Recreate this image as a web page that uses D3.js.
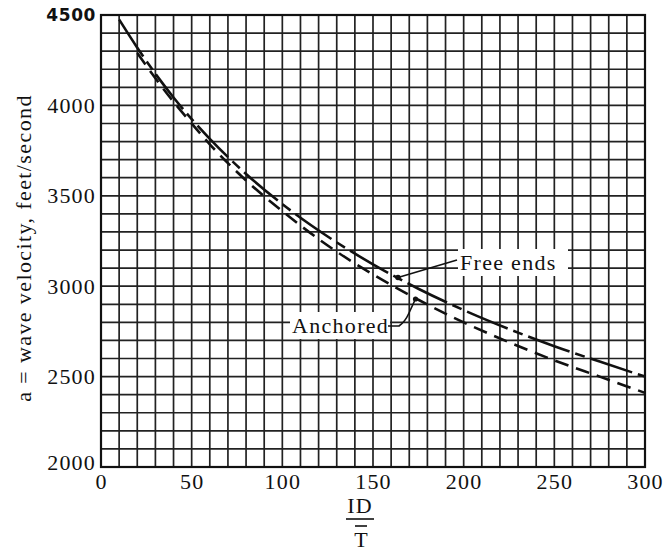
<!DOCTYPE html>
<html>
<head>
<meta charset="utf-8">
<script src="https://cdn.jsdelivr.net/npm/d3@7"></script>
<style>
  html, body { margin: 0; padding: 0; background: #fff; }
  svg { display: block; }
  text { font-family: "Liberation Serif", "Times New Roman", serif; fill: #111; }
</style>
</head>
<body>
<div id="chart"></div>
<script>
// ---- data ----
const freeX   = [10, 20, 30, 40, 50, 60, 80, 100, 125, 150, 175, 200, 225, 250, 275, 300];
const freeA   = [4475, 4319, 4175, 4044, 3924, 3815, 3621, 3454, 3275, 3121, 2986, 2868, 2763, 2668, 2583, 2500];
const anchX   = [20, 30, 40, 50, 60, 80, 100, 125, 150, 175, 200, 225, 250, 275, 300];
const anchA   = [4290, 4150, 4020, 3900, 3785, 3585, 3415, 3225, 3065, 2925, 2800, 2690, 2590, 2500, 2410];
const xTicks  = [0, 50, 100, 150, 200, 250, 300];
const yTicks  = [2000, 2500, 3000, 3500, 4000, 4500];
const seriesNames = ["Free ends", "Anchored"];
const yLabel = "a = wave velocity, feet/second";

const W = 666, H = 552;
const m = {left: 101, top: 15, right: 21, bottom: 85};
const iw = W - m.left - m.right, ih = H - m.top - m.bottom;

const svg = d3.select("#chart").append("svg").attr("width", W).attr("height", H);
const g = svg.append("g").attr("transform", `translate(${m.left},${m.top})`);

const x = d3.scaleLinear().domain([0, 300]).range([0, iw]);
const y = d3.scaleLinear().domain([2000, 4500]).range([ih, 0]);

// grid
const gridColor = "#222";
g.append("g").selectAll("line").data(d3.range(0, 301, 10)).join("line")
  .attr("x1", d => x(d)).attr("x2", d => x(d)).attr("y1", 0).attr("y2", ih)
  .attr("stroke", gridColor).attr("stroke-width", 1.7);
g.append("g").selectAll("line").data(d3.range(2000, 4501, 100)).join("line")
  .attr("y1", d => y(d)).attr("y2", d => y(d)).attr("x1", 0).attr("x2", iw)
  .attr("stroke", gridColor).attr("stroke-width", 1.7);
g.append("rect").attr("width", iw).attr("height", ih).attr("fill", "none")
  .attr("stroke", "#111").attr("stroke-width", 2.2);

// axes (labels only)
const xAxis = d3.axisBottom(x).tickValues(xTicks).tickSize(0).tickPadding(6).tickFormat(d3.format("d"));
const xg = g.append("g").attr("transform", `translate(0,${ih})`).call(xAxis);
xg.select(".domain").remove();
xg.selectAll("text").attr("font-size", 22).attr("letter-spacing", "1.2px").attr("fill", "#111");

const yAxis = d3.axisLeft(y).tickValues(yTicks).tickSize(0).tickPadding(5).tickFormat(d3.format("d"));
const yg = g.append("g").call(yAxis);
yg.select(".domain").remove();
yg.selectAll("text").attr("font-size", 22).attr("letter-spacing", "1.2px").attr("fill", "#111");
yg.selectAll(".tick").filter(d => d === 4500).select("text")
  .style("font-family", "'DejaVu Sans', sans-serif").style("font-weight", "bold")
  .attr("font-size", 17).attr("letter-spacing", "0.6px").attr("dy", "0.3em");
yg.selectAll(".tick").filter(d => d === 2000).select("text").attr("dy", "0.1em");

// curves
const line = d3.line().x(d => x(d[0])).y(d => y(d[1])).curve(d3.curveMonotoneX);
const freeData = freeX.map((v, i) => [v, freeA[i]]);
const anchData = anchX.map((v, i) => [v, anchA[i]]);
g.append("path").datum(anchData).attr("d", line).attr("fill", "none")
  .attr("stroke", "#111").attr("stroke-width", 2.6).attr("stroke-dasharray", "14,8");
g.append("path").datum(freeData).attr("d", line).attr("fill", "none")
  .attr("stroke", "#111").attr("stroke-width", 2.6).attr("stroke-dasharray", "44,6,10,6");

// annotations
const ann = svg.append("g");
ann.append("rect").attr("x", 458).attr("y", 249).attr("width", 110).attr("height", 27).attr("fill", "#fff");
ann.append("text").attr("x", 460).attr("y", 270).attr("font-size", 22).attr("letter-spacing", "1.3px")
  .text(seriesNames[0]);
ann.append("line").attr("x1", 457).attr("y1", 260).attr("x2", 398).attr("y2", 277.5)
  .attr("stroke", "#111").attr("stroke-width", 1.6);
ann.append("circle").attr("cx", 398).attr("cy", 277.5).attr("r", 2.8).attr("fill", "#111");

ann.append("rect").attr("x", 290).attr("y", 312).attr("width", 100).attr("height", 27).attr("fill", "#fff");
ann.append("text").attr("x", 292).attr("y", 333).attr("font-size", 22).attr("letter-spacing", "1.3px")
  .text(seriesNames[1]);
ann.append("path").attr("d", "M388,326 L399,326 Q405,322 409,313 L415,300")
  .attr("fill", "none").attr("stroke", "#111").attr("stroke-width", 1.6);
ann.append("circle").attr("cx", 415.5).attr("cy", 299).attr("r", 2.6).attr("fill", "#111");

// x axis label ID / T
const xl = svg.append("g");
xl.append("text").attr("x", 360).attr("y", 513).attr("text-anchor", "middle")
  .attr("font-size", 22).attr("letter-spacing", "1.2px").text("ID");
xl.append("line").attr("x1", 346).attr("x2", 374).attr("y1", 519).attr("y2", 519)
  .attr("stroke", "#111").attr("stroke-width", 1.6);
xl.append("line").attr("x1", 355).attr("x2", 367).attr("y1", 526).attr("y2", 526)
  .attr("stroke", "#111").attr("stroke-width", 1.6);
xl.append("text").attr("x", 361).attr("y", 547).attr("text-anchor", "middle")
  .attr("font-size", 22).text("T");

// y axis label
svg.append("text").attr("transform", "translate(31,248) rotate(-90)")
  .attr("text-anchor", "middle").attr("font-size", 22).attr("letter-spacing", "1.4px")
  .text(yLabel);
</script>
</body>
</html>
